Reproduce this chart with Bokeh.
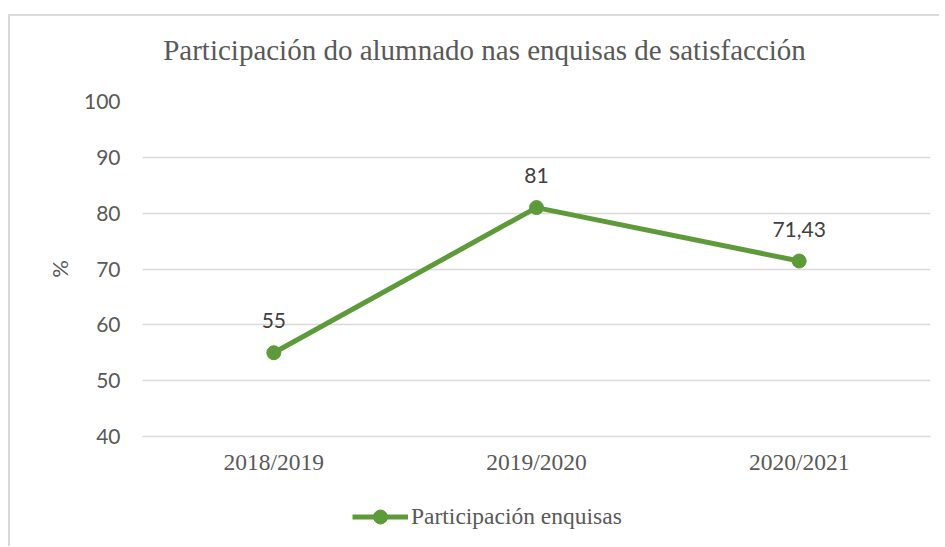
from bokeh.plotting import figure
from bokeh.layouts import column
from bokeh.models import ColumnDataSource, Legend, LegendItem, FixedTicker, Label
from bokeh.embed import file_html
from bokeh.resources import INLINE
from bokeh.core.properties import value

years = ["2018/2019", "2019/2020", "2020/2021"]
participation = [55, 81, 71.43]
y_ticks = [40, 50, 60, 70, 80, 90, 100]
title_text = "Participación do alumnado nas enquisas de satisfacción"
series_name = "Participación enquisas"

labels = [f"{v:g}".replace(".", ",") for v in participation]
src = ColumnDataSource(dict(x=years, y=participation, lab=labels))

GREEN = "#5E9A3A"
GRID = "#D9D9D9"
TXT = "#595959"


def strip(height, x_range):
    f = figure(width=929, height=height, x_range=x_range, y_range=(0, 1),
               output_backend="svg", toolbar_location=None,
               x_axis_type=None, y_axis_type=None,
               min_border=0, min_border_left=0, min_border_right=0,
               min_border_top=0, min_border_bottom=0)
    f.outline_line_color = None
    f.xgrid.grid_line_color = None
    f.ygrid.grid_line_color = None
    f.background_fill_color = "white"
    f.border_fill_color = "white"
    return f


# title strip
t = strip(60, (0, 1))
t.add_layout(Label(x=342, y=27, x_units="screen", y_units="screen",
                   text=title_text, text_align="center", text_baseline="middle",
                   text_font="Liberation Serif", text_font_size="29px",
                   text_color=TXT))

p = figure(x_range=years, y_range=(40, 100), width=929, height=420,
           output_backend="svg", toolbar_location=None,
           min_border_left=132, min_border_right=9,
           min_border_top=25, min_border_bottom=60)
p.x_range.range_padding = 0
p.outline_line_color = None
p.background_fill_color = "white"
p.border_fill_color = "white"

p.xgrid.grid_line_color = None
p.ygrid.grid_line_color = GRID
p.ygrid.grid_line_width = 1.5
p.yaxis.ticker = FixedTicker(ticks=y_ticks)

for ax in (p.xaxis[0], p.yaxis[0]):
    ax.major_tick_line_color = None
    ax.minor_tick_line_color = None
    ax.major_tick_out = 0
    ax.major_tick_in = 0
p.yaxis.axis_line_color = None
p.xaxis.axis_line_color = GRID
p.xaxis.axis_line_width = 1.5

p.yaxis.major_label_text_font = "Lato"
p.yaxis.major_label_text_font_size = "21px"
p.yaxis.major_label_text_color = TXT
p.yaxis.major_label_standoff = 22
p.yaxis.axis_label = "%"
p.yaxis.axis_label_text_font = "Lato"
p.yaxis.axis_label_text_font_size = "22px"
p.yaxis.axis_label_text_font_style = "normal"
p.yaxis.axis_label_text_color = TXT
p.yaxis.axis_label_standoff = 8

p.xaxis.major_label_text_font = "Liberation Serif"
p.xaxis.major_label_text_font_size = "23.5px"
p.xaxis.major_label_text_color = TXT
p.xaxis.major_label_standoff = 12

p.line("x", "y", source=src, line_color=GREEN, line_width=5)
p.scatter("x", "y", source=src, size=14, fill_color=GREEN, line_color=GREEN)

p.text("x", "y", text="lab", source=src, y_offset=-32,
       text_align="center", text_baseline="middle",
       text_font=value("Lato"), text_font_size="21px", text_color="#404040")

# legend strip below the chart (its series sits outside the strip's visible range)
q = strip(50, years)
lg_ln = q.line("x", "y", source=src, line_color=GREEN, line_width=5)
lg_sc = q.scatter("x", "y", source=src, size=14, fill_color=GREEN, line_color=GREEN)

legend = Legend(items=[LegendItem(label=series_name, renderers=[lg_ln, lg_sc])],
                location=(210, 12), orientation="horizontal",
                glyph_width=56, glyph_height=35, label_height=35, label_standoff=3,
                padding=0, margin=0, border_line_color=None,
                background_fill_alpha=0,
                label_text_font="Liberation Serif", label_text_font_size="23.5px",
                label_text_color=TXT)
q.add_layout(legend, "center")

lay = column(t, p, q, spacing=0)
lay.styles = {"margin-top": "14px", "margin-left": "8px",
              "border-left": "2px solid #D9D9D9",
              "border-top": "2px solid #D9D9D9"}

open("out.html", "w").write(file_html(lay, INLINE))
